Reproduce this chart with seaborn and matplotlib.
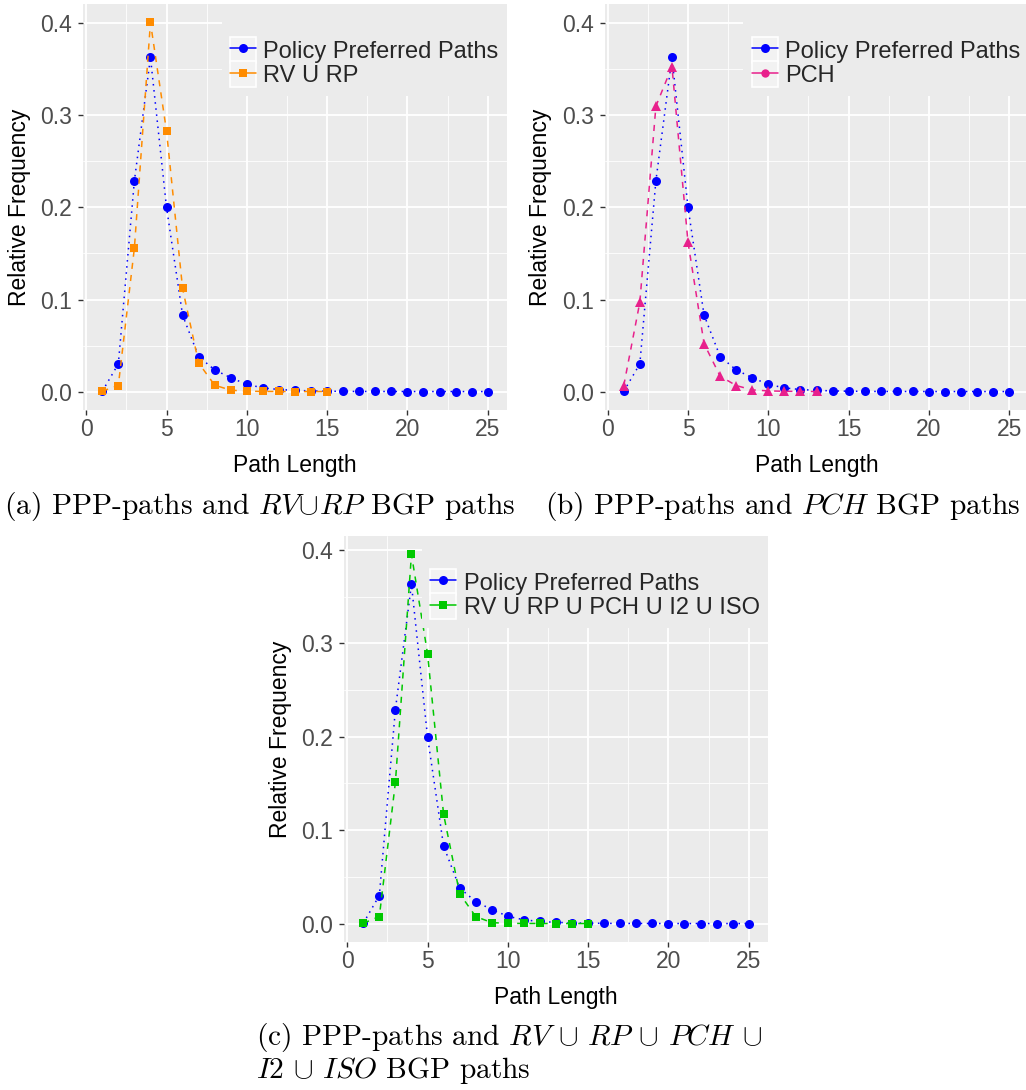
import numpy as np
import pandas as pd
import matplotlib
matplotlib.use("Agg")
import matplotlib.pyplot as plt
import seaborn as sns
from matplotlib.lines import Line2D
from matplotlib.patches import Rectangle
from matplotlib.legend_handler import HandlerLine2D
from matplotlib import ticker

# data
lengths_ppp = list(range(1, 26))
ppp = [0.0003, 0.030, 0.229, 0.363, 0.200, 0.083, 0.038, 0.0235, 0.015, 0.0078,
       0.004, 0.0022, 0.0013, 0.0007, 0.0004, 0.0002, 0.0001, 0.0001, 0.00005,
       0.00003, 0.00002, 0.00001, 0.00001, 0.0, 0.0]

lengths_rvrp = list(range(1, 16))
rvrp = [0.0005, 0.0065, 0.156, 0.401, 0.283, 0.112, 0.031, 0.0069, 0.0015,
        0.0004, 0.0001, 0.00005, 0.00002, 0.00001, 0.0]

lengths_pch = list(range(1, 14))
pch = [0.0065, 0.097, 0.310, 0.353, 0.162, 0.052, 0.0167, 0.0065, 0.0018,
       0.0007, 0.0003, 0.0001, 0.00005]

lengths_all = list(range(1, 16))
all_src = [0.0003, 0.0075, 0.151, 0.395, 0.289, 0.117, 0.032, 0.0075, 0.001,
           0.0002, 0.0001, 0.00005, 0.00002, 0.00001, 0.0]

ppp_label = "Policy Preferred Paths"
other_labels = ["RV U RP", "PCH", "RV U RP U PCH U I2 U ISO"]
other_colors = ["#FF8C00", "#E8208C", "#00C800"]
captions = [r"(a) PPP-paths and $RV\!\cup\! RP$ BGP paths",
            r"(b) PPP-paths and $PCH$ BGP paths",
            r"(c) PPP-paths and $RV$ $\cup$ $RP$ $\cup$ $PCH$ $\cup$",
            r"$I2\,\cup\,ISO$ BGP paths"]

sns.set_theme(style="darkgrid", rc={"axes.facecolor": "#EBEBEB",
                                    "grid.color": "white"})
plt.rcParams["font.family"] = ["Liberation Sans", "DejaVu Sans"]
plt.rcParams["mathtext.fontset"] = "cm"

W, H = 1026, 1090
fig = plt.figure(figsize=(W / 100, H / 100), dpi=100)


class BoxedKey(HandlerLine2D):
    # ggplot-like key with a light box behind the glyph
    def create_artists(self, legend, orig_handle, xdescent, ydescent, width,
                       height, fontsize, trans):
        box = Rectangle((-xdescent, -ydescent - 1), width, height + 2,
                        facecolor="#F2F2F2", edgecolor="white", lw=1.2,
                        transform=trans)
        arts = super().create_artists(legend, orig_handle, xdescent, ydescent,
                                      width, height, fontsize, trans)
        return [box] + list(arts)


def panel(rect_px, x2, y2, label2, color2, marker2, ms2, ytop):
    l, t, w, h = rect_px
    ax = fig.add_axes([l / W, (H - t - h) / H, w / W, h / H])
    df1 = pd.DataFrame({"Path Length": lengths_ppp, "freq": ppp})
    df2 = pd.DataFrame({"Path Length": x2, "freq": y2})
    sns.lineplot(data=df1, x="Path Length", y="freq", ax=ax, color="#0000FF",
                 marker="o", markersize=6.5, mew=0, lw=1.1)
    ax.lines[-1].set_dashes((1, 3))
    sns.lineplot(data=df2, x="Path Length", y="freq", ax=ax, color=color2,
                 marker=marker2, markersize=ms2, mew=0, lw=1.1)
    ax.lines[-1].set_dashes((4, 4))

    ax.set_xlim(-0.2, 26.2)
    ax.set_ylim(-0.05 * ytop, 1.05 * ytop)
    ax.xaxis.set_major_locator(ticker.MultipleLocator(5))
    ax.xaxis.set_minor_locator(ticker.MultipleLocator(2.5))
    ax.yaxis.set_major_locator(ticker.MultipleLocator(0.1))
    ax.yaxis.set_minor_locator(ticker.MultipleLocator(0.05))
    ax.yaxis.set_major_formatter(ticker.FormatStrFormatter("%.1f"))
    ax.grid(which="major", color="white", lw=1.3)
    ax.grid(which="minor", color="white", lw=0.6)
    ax.tick_params(which="major", length=3.3, width=1, color="#333333",
                   labelsize=16.5, labelcolor="#4D4D4D", pad=2.5,
                   bottom=True, left=True)
    ax.tick_params(axis="y", which="major", pad=4.5)
    ax.tick_params(which="minor", length=0)
    for s in ax.spines.values():
        s.set_visible(False)
    ax.set_xlabel("Path Length", fontsize=16.5, color="black", labelpad=9)
    ax.set_ylabel("Relative Frequency", fontsize=16.5, color="black",
                  labelpad=7)

    handles = [Line2D([], [], color="#0000FF", marker="o", markersize=6.5,
                      mew=0, lw=1.1),
               Line2D([], [], color=color2, marker=marker2 if marker2 == "s" else "o",
                      markersize=6, mew=0, lw=1.1)]
    leg = ax.legend(handles, [ppp_label, label2], loc="upper right",
                    bbox_to_anchor=(1, 1), borderaxespad=0, fontsize=17,
                    title=" ", title_fontsize=20, numpoints=1,
                    handlelength=1.1, handleheight=1.1, handletextpad=0.3,
                    labelspacing=0, borderpad=0.36, frameon=True, fancybox=False,
                    handler_map={Line2D: BoxedKey()})
    frame = leg.get_frame()
    frame.set_facecolor("#EBEBEB")
    frame.set_edgecolor("none")
    frame.set_alpha(1)
    return ax


panel((83, 4, 424, 406), lengths_rvrp, rvrp, other_labels[0], other_colors[0],
      "s", 5.8, max(rvrp))
# panel (b) keeps the same y range as panel (a)
panel((604.5, 4, 424, 406), lengths_pch, pch, other_labels[1], other_colors[1],
      "^", 6.5, max(rvrp))
panel((344, 536, 424, 406), lengths_all, all_src, other_labels[2], other_colors[2],
      "s", 5.8, max(all_src))

cap_kw = dict(family="cmr10", fontsize=21.2, color="black", va="center")
fig.text(260 / W, 1 - 507 / H, captions[0], ha="center", **cap_kw)
fig.text(783 / W, 1 - 507 / H, captions[1], ha="center", **cap_kw)
fig.text(256 / W, 1 - 1038 / H, captions[2], ha="left", **cap_kw)
fig.text(256 / W, 1 - 1071 / H, captions[3], ha="left", **cap_kw)

fig.savefig("out.png", dpi=100)
